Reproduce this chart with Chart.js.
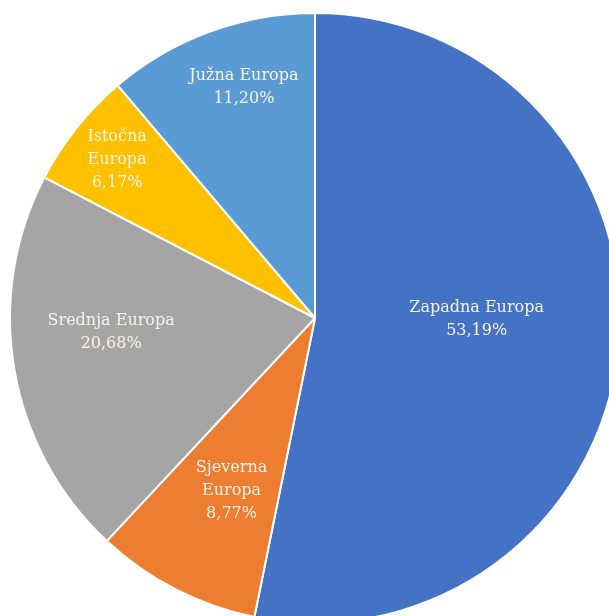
<!DOCTYPE html>
<html>
<head>
<meta charset="utf-8">
<script src="https://cdn.jsdelivr.net/npm/chart.js@4"></script>
<style>
  html, body { margin: 0; padding: 0; background: #fff; }
  #wrap { width: 609px; height: 616px; }
</style>
</head>
<body>
<div id="wrap"><canvas id="pie"></canvas></div>
<script>
const regions = [['Zapadna', 'Europa'], ['Sjeverna', 'Europa'], ['Srednja', 'Europa'], ['Istočna', 'Europa'], ['Južna', 'Europa']];
const shares = [53.19, 8.77, 20.68, 6.17, 11.20];
const percentLabels = ['53,19%', '8,77%', '20,68%', '6,17%', '11,20%'];

const colors = ['#4472c4', '#ed7d31', '#a5a5a5', '#ffc000', '#5b9bd5'];
// label placement: fraction of radius and a small angular nudge (deg) off the slice middle
const labelRadius = [0.53, 0.63, 0.67, 0.83, 0.79];
const labelTurn = [-5.3, -1.5, 5.7, 0, 3];
const labelLines = [
  [regions[0].join(' ')],
  regions[1],
  [regions[2].join(' ')],
  regions[3],
  [regions[4].join(' ')],
];

const sliceLabels = {
  id: 'sliceLabels',
  afterDatasetsDraw(chart) {
    const ctx = chart.ctx;
    const arcs = chart.getDatasetMeta(0).data;
    ctx.save();
    ctx.font = '16px "DejaVu Serif"';
    ctx.fillStyle = '#f6f4e8';
    ctx.textAlign = 'center';
    ctx.textBaseline = 'middle';
    arcs.forEach((arc, i) => {
      const mid = (arc.startAngle + arc.endAngle) / 2 + labelTurn[i] * Math.PI / 180;
      const r = arc.outerRadius * labelRadius[i];
      const x = arc.x + Math.cos(mid) * r;
      const y = arc.y + Math.sin(mid) * r;
      const lines = labelLines[i].concat([percentLabels[i]]);
      const lh = 23;
      const top = y - (lines.length - 1) * lh / 2;
      lines.forEach((t, j) => ctx.fillText(t, x, top + j * lh));
    });
    ctx.restore();
  }
};

new Chart(document.getElementById('pie').getContext('2d'), {
  type: 'pie',
  data: {
    labels: regions.map(r => r.join(' ')),
    datasets: [{
      data: shares,
      backgroundColor: colors,
      borderColor: '#ffffff',
      borderWidth: 2,
    }],
  },
  options: {
    responsive: true,
    maintainAspectRatio: false,
    animation: false,
    radius: 305,
    layout: { padding: { left: 21, top: 20 } },
    plugins: {
      legend: { display: false },
      tooltip: { enabled: false },
    },
  },
  plugins: [sliceLabels],
});
</script>
</body>
</html>
